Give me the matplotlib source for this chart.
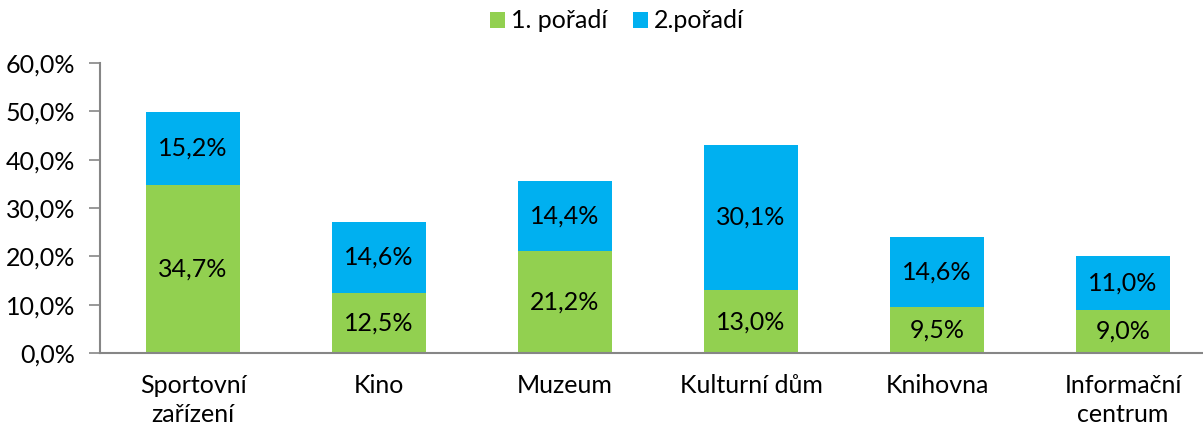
import matplotlib
matplotlib.use("Agg")
import matplotlib.pyplot as plt
import numpy as np

categories = ["Sportovní\nzařízení", "Kino", "Muzeum", "Kulturní dům", "Knihovna", "Informační\ncentrum"]
first = [34.7, 12.5, 21.2, 13.0, 9.5, 9.0]
second = [15.2, 14.6, 14.4, 30.1, 14.6, 11.0]
series_names = ["1. pořadí", "2.pořadí"]
yticks = [0, 10, 20, 30, 40, 50, 60]

GREEN = "#92D050"
BLUE = "#00B0F0"
AXC = "#868686"
FS = 18

plt.rcParams['font.family'] = ['Lato', 'DejaVu Sans']

W, H = 1203, 432
fig = plt.figure(figsize=(W / 100, H / 100), dpi=100)
ax = fig.add_axes([100 / W, 1 - 353 / H, 1116 / W, (353 - 63) / H])

x = np.arange(len(categories))
bw = 0.51
b1 = ax.bar(x, first, bw, color=GREEN, label=series_names[0], zorder=2)
b2 = ax.bar(x, second, bw, bottom=first, color=BLUE, label=series_names[1], zorder=2)

for i in range(len(categories)):
    ax.text(x[i], first[i] / 2, f"{first[i]:.1f}%".replace(".", ","),
            ha="center", va="center", fontsize=FS, color="black")
    ax.text(x[i], first[i] + second[i] / 2, f"{second[i]:.1f}%".replace(".", ","),
            ha="center", va="center", fontsize=FS, color="black")

ax.set_xlim(-0.5, len(categories) - 0.5)
ax.set_ylim(0, 60)
ax.set_yticks(yticks)
ax.set_yticklabels([f"{v:.1f}%".replace(".", ",") for v in yticks], fontsize=FS)
ax.set_xticks(x)
ax.set_xticklabels(categories, fontsize=FS, linespacing=1.3)
ax.tick_params(axis="x", length=0, pad=15)
ax.tick_params(axis="y", length=8, width=1.2, color=AXC, pad=10)
for s in ["top", "right"]:
    ax.spines[s].set_visible(False)
for s in ["left", "bottom"]:
    ax.spines[s].set_color(AXC)
    ax.spines[s].set_linewidth(1.5)

fig.legend(handles=[b1, b2], labels=series_names, loc="center", bbox_to_anchor=(0.513, 1 - 21 / H),
           ncol=2, frameon=False, fontsize=FS, handlelength=0.6, handleheight=0.6,
           handletextpad=0.25, columnspacing=1.0)

fig.savefig("out.png", dpi=100)
